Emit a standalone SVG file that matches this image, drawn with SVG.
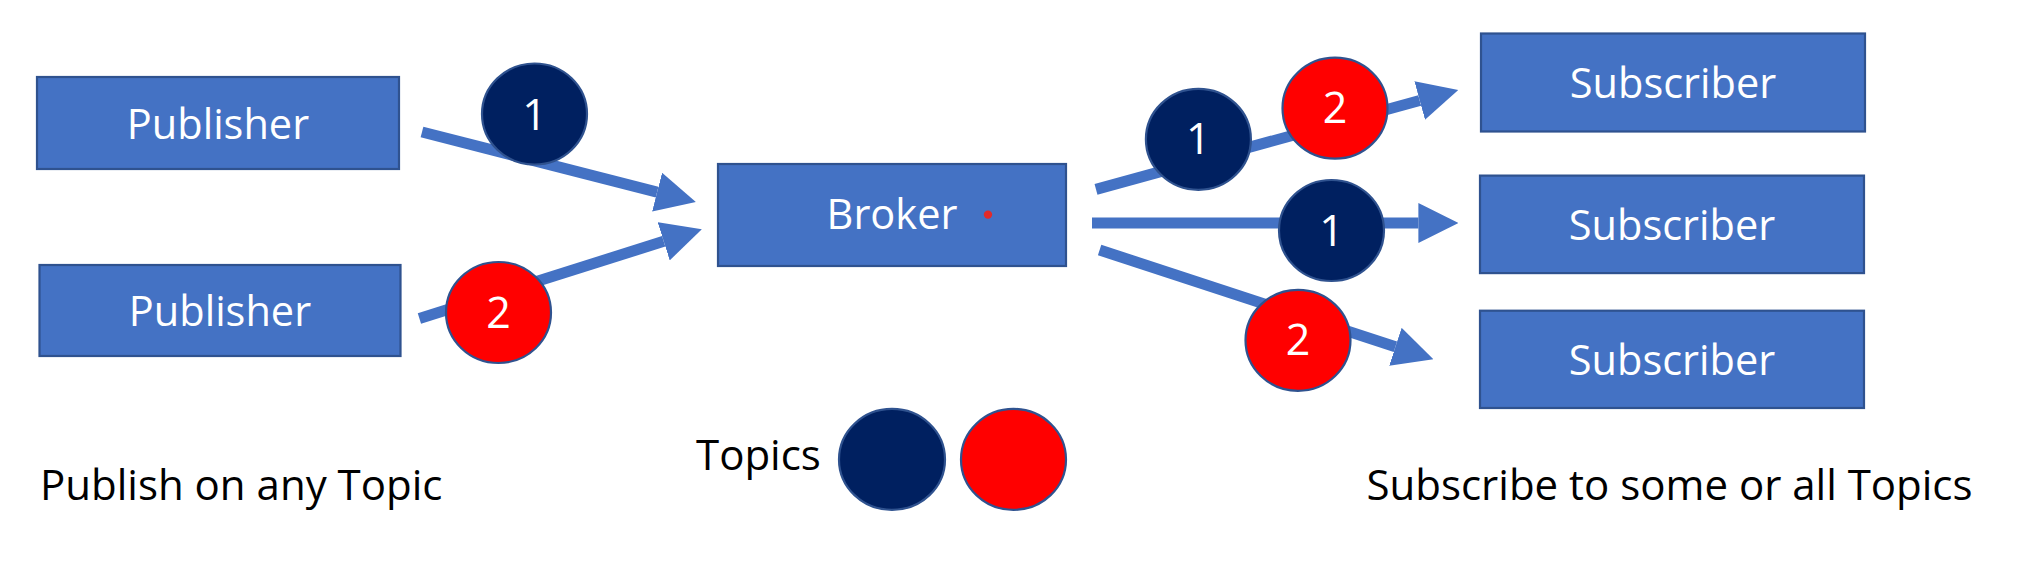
<svg xmlns="http://www.w3.org/2000/svg" width="2037" height="580" viewBox="0 0 2037 580">
  <defs>
    <style>
      .box { fill: #4472C4; stroke: #2F528F; stroke-width: 2.2; }
      .lbl { font-family: "Open Sans", "Liberation Sans", sans-serif; font-size: 41.5px; fill: #FFFFFF; text-anchor: middle; }
      .num { font-family: "Open Sans", "Liberation Sans", sans-serif; font-size: 43px; fill: #FFFFFF; text-anchor: middle; }
      .cap { font-family: "Open Sans", "Liberation Sans", sans-serif; font-size: 42px; fill: #000000; }
      .conn { fill: none; stroke: #4472C4; stroke-width: 11; stroke-linecap: butt; }
      .t1 { fill: #002060; stroke: #2F528F; stroke-width: 2.2; }
      .t2 { fill: #FF0000; stroke: #2F528F; stroke-width: 2.2; }
    </style>
    <marker id="head" markerUnits="userSpaceOnUse" markerWidth="40" markerHeight="40" refX="0" refY="18" orient="auto" viewBox="0 0 36 36">
      <path d="M0,0 L36,18 L0,36 Z" fill="#4472C4"/>
    </marker>
  </defs>
  <rect width="2037" height="580" fill="#FFFFFF"/>

  <g id="connectors">
    <line class="conn" x1="422" y1="132" x2="657.1" y2="192.1" marker-end="url(#head)"/>
    <line class="conn" x1="419.4" y1="318.5" x2="663.7" y2="241.3" marker-end="url(#head)"/>
    <line class="conn" x1="1096" y1="189.4" x2="1419.7" y2="100.5" marker-end="url(#head)"/>
    <line class="conn" x1="1092" y1="223" x2="1418.4" y2="223" marker-end="url(#head)"/>
    <line class="conn" x1="1099.6" y1="250" x2="1395.4" y2="346.8" marker-end="url(#head)"/>
  </g>

  <g id="publisher1">
    <rect class="box" x="37" y="77" width="362" height="92"/>
    <text class="lbl" x="218" y="139">Publisher</text>
  </g>
  <g id="publisher2">
    <rect class="box" x="39.5" y="265" width="361" height="91"/>
    <text class="lbl" x="220" y="326">Publisher</text>
  </g>
  <g id="broker">
    <rect class="box" x="718" y="164" width="348" height="102"/>
    <text class="lbl" x="892" y="229">Broker</text>
    <circle cx="988" cy="214.6" r="4.2" fill="#E32A2A"/>
  </g>
  <g id="subscriber1">
    <rect class="box" x="1481" y="33.5" width="384" height="98"/>
    <text class="lbl" x="1673" y="98">Subscriber</text>
  </g>
  <g id="subscriber2">
    <rect class="box" x="1480" y="175.6" width="384" height="97.5"/>
    <text class="lbl" x="1672" y="239.7">Subscriber</text>
  </g>
  <g id="subscriber3">
    <rect class="box" x="1480" y="310.7" width="384" height="97.3"/>
    <text class="lbl" x="1672" y="374.8">Subscriber</text>
  </g>

  <g id="msg-pub1-topic1">
    <ellipse class="t1" cx="534.5" cy="114" rx="52.5" ry="50.5"/>
    <text class="num" x="534.5" y="129.5">1</text>
  </g>
  <g id="msg-pub2-topic2">
    <ellipse class="t2" cx="498.5" cy="312.5" rx="52.5" ry="50.5"/>
    <text class="num" x="498.5" y="327.5">2</text>
  </g>
  <g id="msg-sub1-topic1">
    <ellipse class="t1" cx="1198.4" cy="139.3" rx="52.5" ry="50.5"/>
    <text class="num" x="1198.4" y="154.3">1</text>
  </g>
  <g id="msg-sub1-topic2">
    <ellipse class="t2" cx="1335" cy="108.2" rx="52.5" ry="50.5"/>
    <text class="num" x="1335" y="123.2">2</text>
  </g>
  <g id="msg-sub2-topic1">
    <ellipse class="t1" cx="1331.5" cy="230.5" rx="52.5" ry="50.5"/>
    <text class="num" x="1331.5" y="245.5">1</text>
  </g>
  <g id="msg-sub3-topic2">
    <ellipse class="t2" cx="1298" cy="340.3" rx="52.5" ry="50.5"/>
    <text class="num" x="1298" y="355.3">2</text>
  </g>

  <g id="legend">
    <text class="cap" x="696" y="470">Topics</text>
    <ellipse class="t1" cx="892" cy="459.4" rx="53" ry="50.5"/>
    <ellipse class="t2" cx="1013.5" cy="459.4" rx="52.5" ry="50.5"/>
  </g>

  <g id="captions">
    <text class="cap" x="40" y="499.5">Publish on any Topic</text>
    <text class="cap" x="1366.5" y="499.5">Subscribe to some or all Topics</text>
  </g>
</svg>
